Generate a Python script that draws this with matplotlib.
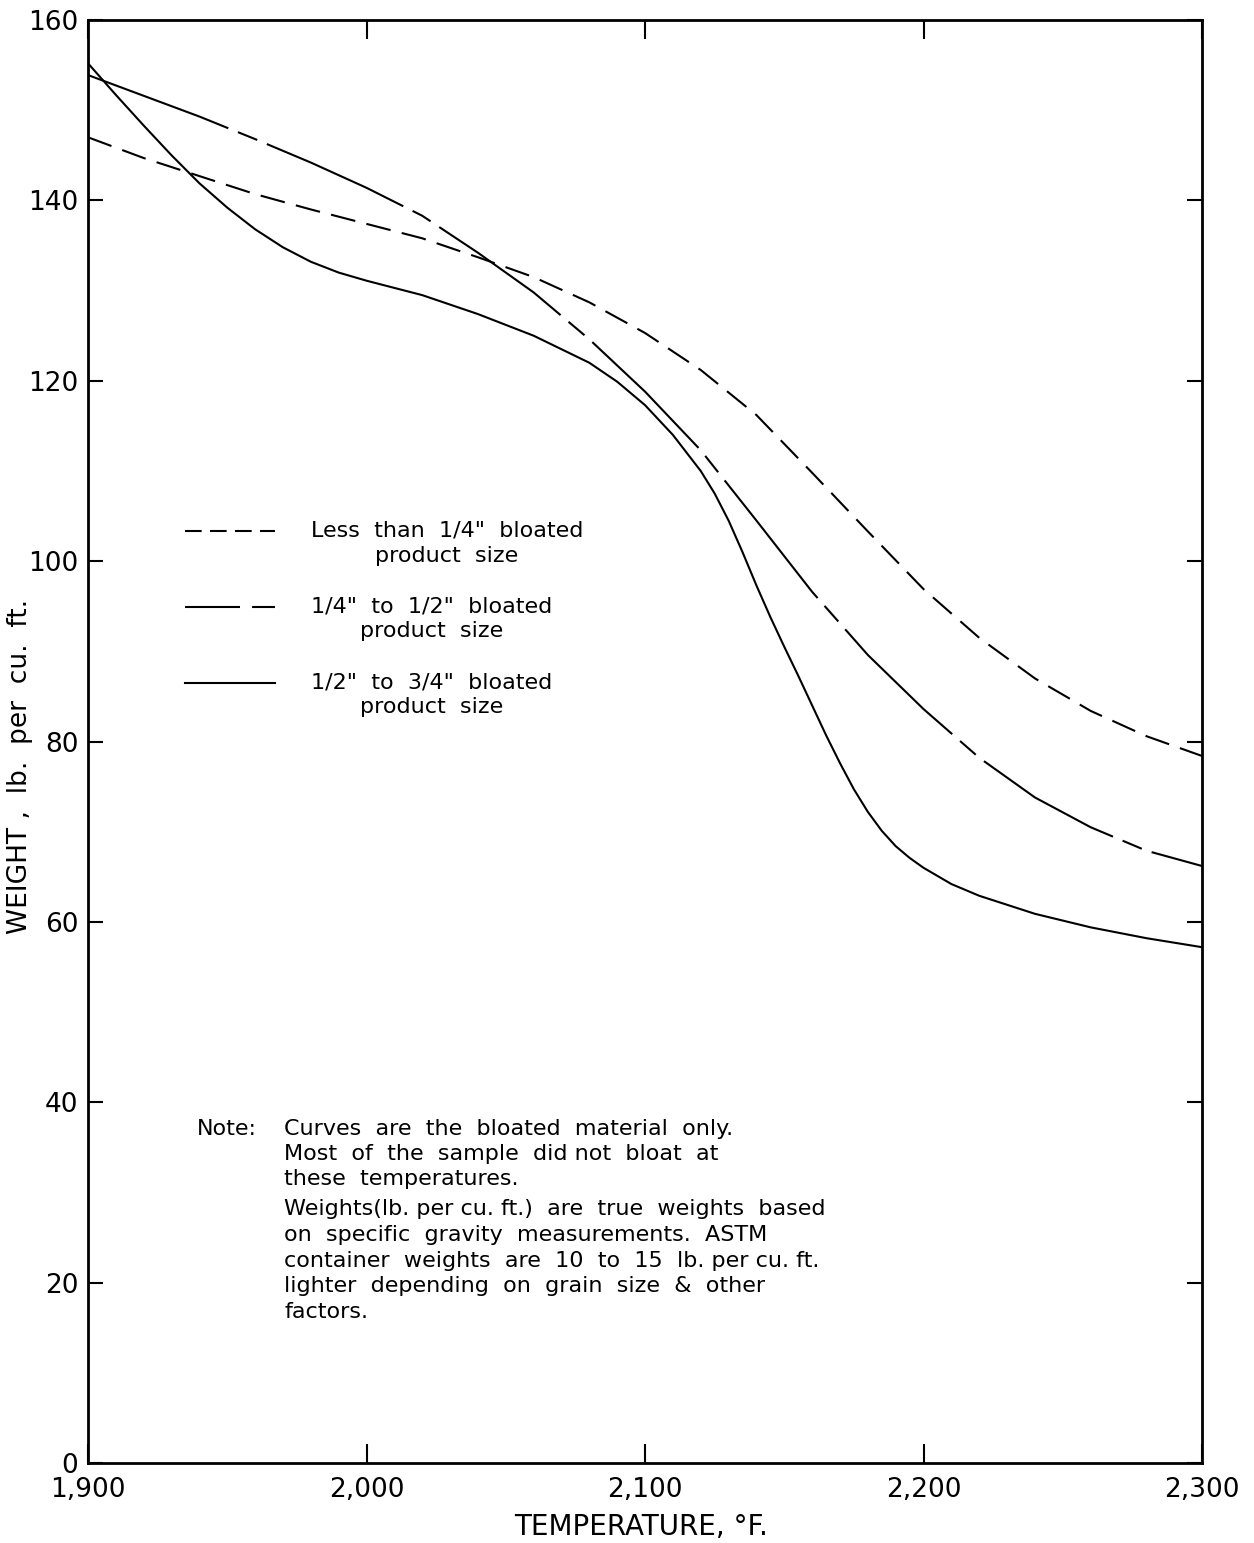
import numpy as np
import matplotlib
matplotlib.use('Agg')
import matplotlib.pyplot as plt
from matplotlib.lines import Line2D
from matplotlib.legend_handler import HandlerLine2D

# temperature (deg F) / weight (lb per cu. ft.)
temp_dash = [1900, 1920, 1940, 1960, 1980, 2000, 2020, 2040, 2060, 2080, 2100,
             2120, 2140, 2160, 2180, 2200, 2220, 2240, 2260, 2280, 2300]
weight_small = [147.0, 144.7, 142.7, 140.7, 139.0, 137.4, 135.8, 133.7, 131.5, 128.7, 125.3,
                121.2, 116.2, 109.8, 103.3, 96.9, 91.5, 87.0, 83.4, 80.6, 78.4]
weight_medium = [153.9, 151.6, 149.3, 146.8, 144.2, 141.4, 138.3, 134.2, 129.8, 124.6, 118.8,
                 112.3, 104.5, 96.6, 89.6, 83.6, 78.2, 73.8, 70.5, 67.9, 66.2]

temp_solid = [1900, 1910, 1920, 1930, 1940, 1950, 1960, 1970, 1980, 1990, 2000,
              2020, 2040, 2060, 2080, 2090, 2100, 2110, 2120, 2125, 2130, 2135,
              2140, 2145, 2150, 2155, 2160, 2165, 2170, 2175, 2180, 2185, 2190,
              2195, 2200, 2210, 2220, 2240, 2260, 2280, 2300]
weight_large = [155.2, 151.7, 148.3, 145.0, 141.9, 139.2, 136.8, 134.8, 133.2, 132.0, 131.1,
                129.5, 127.4, 125.0, 122.0, 119.9, 117.3, 114.0, 110.0, 107.5, 104.5, 101.0,
                97.3, 93.8, 90.5, 87.3, 84.0, 80.7, 77.6, 74.7, 72.2, 70.1, 68.4,
                67.1, 66.0, 64.2, 62.9, 60.9, 59.4, 58.2, 57.2]

labels = ['Less  than  1/4"  bloated\nproduct  size',
          '1/4"  to  1/2"  bloated\nproduct  size',
          '1/2"  to  3/4"  bloated\nproduct  size']

xticks = [1900, 2000, 2100, 2200, 2300]
xticklabels = ['1,900', '2,000', '2,100', '2,200', '2,300']
yticks = [0, 20, 40, 60, 80, 100, 120, 140, 160]

note_1 = ('Curves  are  the  bloated  material  only.\n'
          'Most  of  the  sample  did not  bloat  at\n'
          'these  temperatures.')
note_2 = ('Weights(lb. per cu. ft.)  are  true  weights  based\n'
          'on  specific  gravity  measurements.  ASTM\n'
          'container  weights  are  10  to  15  lb. per cu. ft.\n'
          'lighter  depending  on  grain  size  &  other\n'
          'factors.')

LW = 1.5
TXT_FS = 16
TXT_LS = 1.3


class FirstLineHandler(HandlerLine2D):
    # legend keys sit level with the first line of the two line labels
    def create_artists(self, legend, orig_handle, xdescent, ydescent,
                       width, height, fontsize, trans):
        arts = super().create_artists(legend, orig_handle, xdescent, ydescent,
                                      width, height, fontsize, trans)
        for a in arts:
            a.set_ydata(np.asarray(a.get_ydata()) + 0.435 * TXT_LS * fontsize)
        return arts


plt.rcParams['font.family'] = ['DejaVu Sans']
fig = plt.figure(figsize=(12.54, 15.43), dpi=100)
ax = fig.add_axes([0.0702, 0.0518, 0.8884, 0.9352])

ax.plot(temp_dash, weight_small, color='black', lw=LW, ls=(0, (12, 5.5)))
ax.plot(temp_dash, weight_medium, color='black', lw=LW, ls=(0, (72, 5, 10, 5)))
ax.plot(temp_solid, weight_large, color='black', lw=LW, ls='-')

ax.set_xlim(1900, 2300)
ax.set_ylim(0, 160)
ax.set_xticks(xticks)
ax.set_xticklabels(xticklabels)
ax.set_yticks(yticks)

ax.tick_params(axis='both', direction='in', top=True, right=True,
               labeltop=False, labelright=False, width=1.5, color='black')
ax.tick_params(axis='x', length=14, pad=10, labelsize=19)
ax.tick_params(axis='y', length=11, pad=7, labelsize=19)
for s in ax.spines.values():
    s.set_linewidth(2)

ax.set_xlabel('TEMPERATURE, °F.', fontsize=20, va='center')
ax.xaxis.set_label_coords(0.496, -0.0444)
ax.set_ylabel('WEIGHT ,  lb.  per  cu.  ft.', fontsize=19, va='center')
ax.yaxis.set_label_coords(-0.061, 0.483)

# legend keys with shorter dash cycles so the pattern shows in a short sample
proxies = [Line2D([], [], color='black', lw=LW, ls=(0, (8, 4))),
           Line2D([], [], color='black', lw=LW, ls=(0, (26.4, 5.8, 11, 5.8))),
           Line2D([], [], color='black', lw=LW, ls='-')]
leg = ax.legend(proxies, labels, loc='upper left', bbox_to_anchor=(0.0872, 0.653),
                frameon=False, fontsize=TXT_FS, handlelength=4.05, handletextpad=1.6,
                labelspacing=1.4, borderpad=0, borderaxespad=0,
                handler_map={Line2D: FirstLineHandler()})
for t in leg.get_texts():
    t.set_multialignment('center')
    t.set_linespacing(TXT_LS)

ax.text(0.098, 0.2384, 'Note:', transform=ax.transAxes, fontsize=TXT_FS, va='top')
ax.text(0.1763, 0.2384, note_1, transform=ax.transAxes, fontsize=TXT_FS,
        va='top', linespacing=TXT_LS)
ax.text(0.1763, 0.183, note_2, transform=ax.transAxes, fontsize=TXT_FS,
        va='top', linespacing=1.36)

fig.savefig('out.png', dpi=100)
